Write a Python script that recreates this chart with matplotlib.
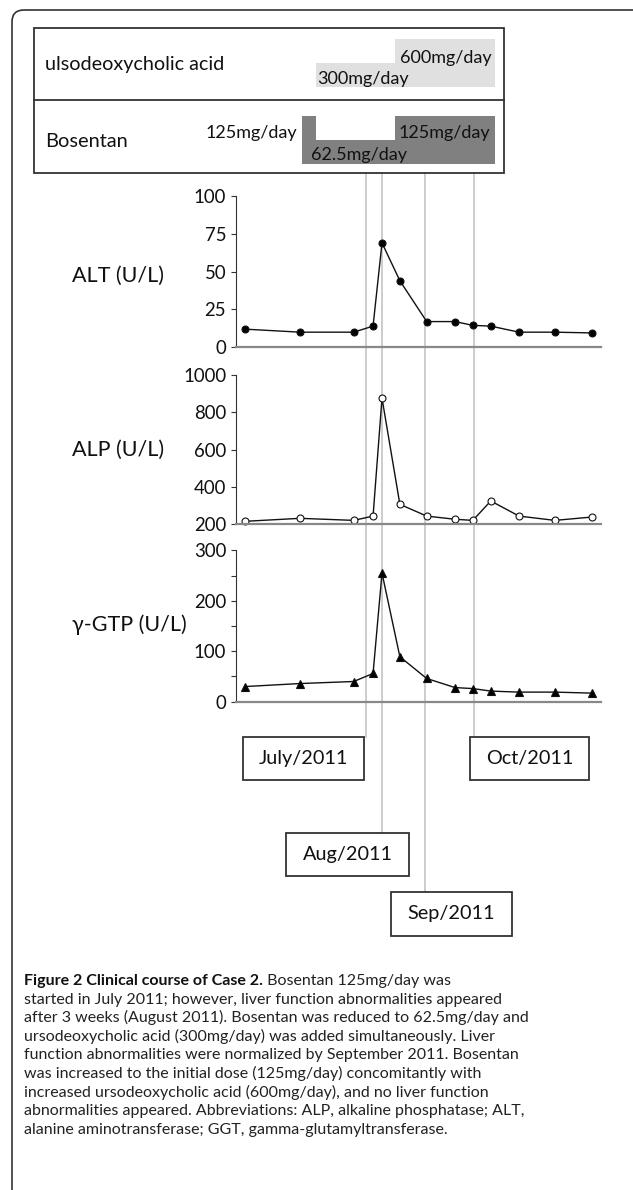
import matplotlib
matplotlib.use('Agg')
import matplotlib.pyplot as plt
from matplotlib.patches import Rectangle, FancyBboxPatch

# time axis in days from start of the observation window
days = [6, 43, 79, 92, 98, 110, 128, 147, 159, 171, 190, 214, 239]
alt = [12, 10, 10, 14, 69, 44, 17, 17, 14.5, 14, 10, 10, 9.5]
alp = [216, 232, 221, 244, 876, 307, 244, 227, 221, 325, 244, 221, 239]
gtp = [30, 36, 40, 56, 255, 89, 46, 28, 26, 21, 19, 19, 17]

# drug schedule: (start day, end day, dose)
urso_doses = [(54, 107, 300), (107, 174, 600)]
bosentan_doses = [(44, 54, 125), (54, 107, 62.5), (107, 174, 125)]

# month markers
month_days = [87, 98, 127, 160]
month_labels = ['July/2011', 'Aug/2011', 'Sep/2011', 'Oct/2011']

caption_bold = 'Figure 2 Clinical course of Case 2.'
caption_lines = [
  ' Bosentan 125mg/day was',
  'started in July 2011; however, liver function abnormalities appeared',
  'after 3 weeks (August 2011). Bosentan was reduced to 62.5mg/day and',
  'ursodeoxycholic acid (300mg/day) was added simultaneously. Liver',
  'function abnormalities were normalized by September 2011. Bosentan',
  'was increased to the initial dose (125mg/day) concomitantly with',
  'increased ursodeoxycholic acid (600mg/day), and no liver function',
  'abnormalities appeared. Abbreviations: ALP, alkaline phosphatase; ALT,',
  'alanine aminotransferase; GGT, gamma-glutamyltransferase.',
]

W, H = 633, 1190
XL, XR = 236, 601
XMAX = 245
LAB_FONT = ['Lato', 'DejaVu Sans']
CAP_FONT = ['Lato', 'DejaVu Sans']
TXT = '#111111'

def px(d):
  return XL + d*(XR-XL)/XMAX

def add_ax(fig, top, bottom, left=XL, right=XR):
  return fig.add_axes([left/W, 1-bottom/H, (right-left)/W, (bottom-top)/H])

fig = plt.figure(figsize=(W/100, H/100), dpi=100)

# overlay for frame, boxes, labels
ov = fig.add_axes([0, 0, 1, 1])
ov.set_xlim(0, W)
ov.set_ylim(H, 0)
ov.axis('off')

ov.add_patch(FancyBboxPatch((12, 10), 900, 1400, boxstyle='round,pad=0,rounding_size=12',
                            fill=False, ec='#333333', lw=1.2))
ov.add_patch(Rectangle((34, 28), 470, 145, fill=False, ec='#333333', lw=1.3))
ov.plot([34, 504], [100, 100], color='#333333', lw=1.3)
ov.text(45, 70, 'ulsodeoxycholic acid', fontsize=14.2, family=LAB_FONT, color=TXT)
ov.text(45, 147, 'Bosentan', fontsize=14.4, family=LAB_FONT, color=TXT)

# month boxes: (left, top, right, bottom)
boxes = [(243, 737, 364, 780), (286, 833, 409, 876), (391, 892, 512, 936), (470, 737, 589, 780)]
for d, lab, (l, t, r, b) in zip(month_days, month_labels, boxes):
  ov.plot([px(d), px(d)], [173, t], color='#c8c8c8', lw=1.3, zorder=0)
  ov.add_patch(Rectangle((l, t), r-l, b-t, fill=False, ec='#333333', lw=1.3))
  ov.text((l+r)/2, (t+b)/2, lab, ha='center', va='center', fontsize=14.3, family=LAB_FONT, color=TXT)

# drug bars (drawn below the overlay so the dose labels sit on top)
ax_u = add_ax(fig, 39, 87)
ax_u.set_zorder(-1)
ax_u.set_xlim(0, XMAX)
ax_u.set_ylim(0, 600)
ax_u.axis('off')
ax_u.bar([s for s, e, v in urso_doses], [v for s, e, v in urso_doses],
         width=[e-s for s, e, v in urso_doses], align='edge', color='#e0e0e0', lw=0)
ax_b = add_ax(fig, 116, 164)
ax_b.set_zorder(-1)
ax_b.set_xlim(0, XMAX)
ax_b.set_ylim(0, 125)
ax_b.axis('off')
ax_b.bar([s for s, e, v in bosentan_doses], [v for s, e, v in bosentan_doses],
         width=[e-s for s, e, v in bosentan_doses], align='edge', color='#808080', lw=0)

dose_kw = dict(fontsize=13, family=LAB_FONT, color=TXT)
ov.text(492, 63, '600mg/day', ha='right', **dose_kw)
ov.text(317, 84, '300mg/day', ha='left', **dose_kw)
ov.text(297, 138, '125mg/day', ha='right', **dose_kw)
ov.text(311, 160, '62.5mg/day', ha='left', **dose_kw)
ov.text(490, 138, '125mg/day', ha='right', **dose_kw)

# lab charts
panels = [
  (alt, 196, 347.3, (0, 100), [0, 25, 50, 75, 100], None, 'o', 'black', 'ALT (U/L)', 276),
  (alp, 375, 524.3, (200, 1000), [200, 400, 600, 800, 1000], None, 'o', 'white', 'ALP (U/L)', 450),
  (gtp, 550.3, 701.7, (0, 300), [0, 100, 200, 300], [50, 150, 250], '^', 'black', 'γ-GTP (U/L)', 625),
]
for vals, top, bot, ylim, ticks, minor, mk, fc, lab, ly in panels:
  ax = add_ax(fig, top, bot)
  ax.patch.set_alpha(0)
  ax.plot(days, vals, color=TXT, lw=1.0, marker=mk, ms=5.5 if mk == '^' else 5,
          mfc=fc, mec=TXT, mew=0.8, clip_on=False)
  ax.set_xlim(0, XMAX)
  ax.set_ylim(*ylim)
  ax.set_yticks(ticks)
  if minor:
    ax.set_yticks(minor, minor=True)
  ax.set_xticks([])
  for s in ['top', 'right']:
    ax.spines[s].set_visible(False)
  ax.spines['left'].set_color('#333333')
  ax.spines['left'].set_linewidth(0.8)
  ax.spines['bottom'].set_color('#888888')
  ax.spines['bottom'].set_linewidth(1.6)
  ax.tick_params(axis='y', which='both', direction='out', length=3.6, width=0.8,
                 color='#333333', pad=3.5, labelsize=13.4, labelcolor=TXT)
  for t in ax.get_yticklabels():
    t.set_family(LAB_FONT)
  ov.text(72, ly, lab, va='center', fontsize=15.5, family=LAB_FONT, color=TXT)

# caption: fit the widest line to roughly the column width of the original
r = fig.canvas.get_renderer()
y0 = 985
step = 18.6
probe = ov.text(0, 0, caption_lines[2], fontsize=11, family=CAP_FONT)
cap_fs = 11 * 505 / probe.get_window_extent(renderer=r).width
probe.remove()
tb = ov.text(24.5, y0, caption_bold, fontsize=cap_fs, family=CAP_FONT, weight='bold', color=TXT)
ext = tb.get_window_extent(renderer=r)
ov.text(ext.x1, y0, caption_lines[0], fontsize=cap_fs, family=CAP_FONT, color='#222222')
for i, line in enumerate(caption_lines[1:], start=1):
  ov.text(24.5, y0 + i*step, line, fontsize=cap_fs, family=CAP_FONT, color='#222222')

fig.savefig('out.png', dpi=100)
